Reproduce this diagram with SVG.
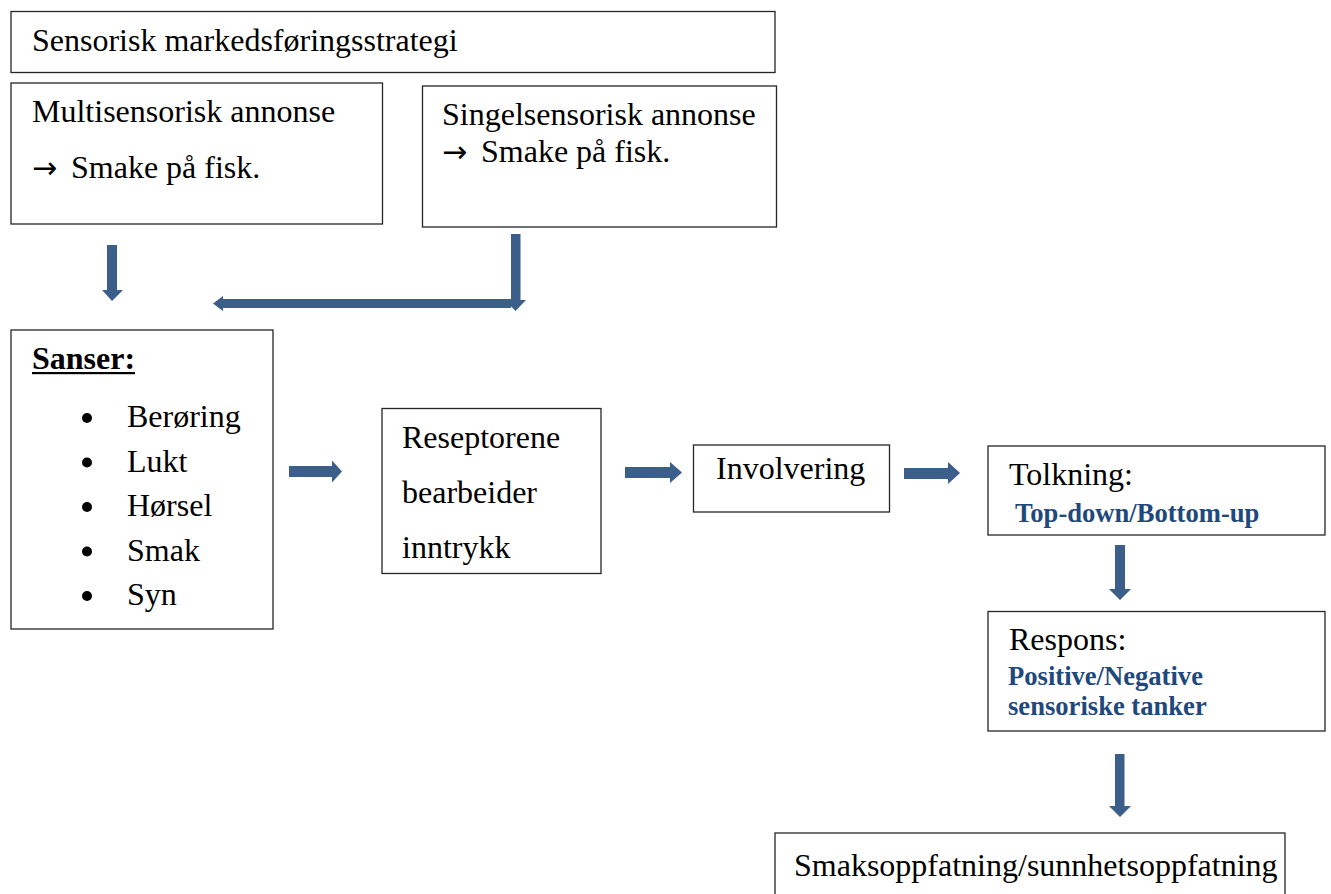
<svg xmlns="http://www.w3.org/2000/svg" width="1331" height="894" viewBox="0 0 1331 894">
<style>
.box{fill:#fff;stroke:#262626;stroke-width:1.3}
text{font-family:"Liberation Serif","Times New Roman",serif}
.t{font-size:32px;fill:#000}
.b{font-size:26.6px;font-weight:bold;fill:#1F497D}
.ar{font-family:"DejaVu Sans",sans-serif;font-size:30px}
.arr{fill:#3B5E8B}
</style>
<rect width="1331" height="894" fill="#fff"/>
<g id="strategi"><rect class="box" x="11" y="11.5" width="764" height="61"/><text class="t" x="32" y="51">Sensorisk markedsføringsstrategi</text></g>
<g id="multi"><rect class="box" x="11" y="83" width="371.5" height="141"/><text class="t" x="32" y="121.5">Multisensorisk annonse</text><text class="t" y="178"><tspan class="ar" x="32">→</tspan><tspan x="71">Smake på fisk.</tspan></text></g>
<g id="singel"><rect class="box" x="422.5" y="86" width="354" height="141"/><text class="t" x="442" y="125">Singelsensorisk annonse</text><text class="t" y="162"><tspan class="ar" x="442">→</tspan><tspan x="481">Smake på fisk.</tspan></text></g>
<g id="sanser"><rect class="box" x="11" y="330" width="262" height="299"/>
<text class="t" x="32" y="369" font-weight="bold">Sanser:</text><rect x="32" y="372" width="103" height="2.2" fill="#000"/>
<g fill="#000"><circle cx="87" cy="418" r="5"/><circle cx="87" cy="462.5" r="5"/><circle cx="87" cy="507" r="5"/><circle cx="87" cy="551.5" r="5"/><circle cx="87" cy="596" r="5"/></g>
<text class="t" x="127" y="427">Berøring</text><text class="t" x="127" y="471.5">Lukt</text><text class="t" x="127" y="516">Hørsel</text><text class="t" x="127" y="560.5">Smak</text><text class="t" x="127" y="605">Syn</text></g>
<g id="reseptorene"><rect class="box" x="382" y="408.5" width="219" height="165"/><text class="t" x="402" y="448">Reseptorene</text><text class="t" x="402" y="503">bearbeider</text><text class="t" x="402" y="558">inntrykk</text></g>
<g id="involvering"><rect class="box" x="693.5" y="445" width="196" height="67"/><text class="t" x="716" y="478.5">Involvering</text></g>
<g id="tolkning"><rect class="box" x="988" y="446" width="337" height="89"/><text class="t" x="1009" y="485">Tolkning:</text><text class="b" x="1015" y="521.5">Top-down/Bottom-up</text></g>
<g id="respons"><rect class="box" x="988" y="611.5" width="337" height="119.5"/><text class="t" x="1009" y="650">Respons:</text><text class="b" x="1008" y="685">Positive/Negative</text><text class="b" x="1008" y="715">sensoriske tanker</text></g>
<g id="oppfatning"><rect class="box" x="775" y="833" width="510" height="70"/><text class="t" x="794" y="876">Smaksoppfatning/sunnhetsoppfatning</text></g>
<g id="connectors">
<path class="arr" d="M107,245 H117 V290 H123 L112,301 L102,290 H107 Z"/>
<path class="arr" d="M511,234 H520.5 V300 H526 L515.5,311 L505,300 H511 V308 H223 V311 L213,303.5 L223,296 V299 H511 Z"/>
<path class="arr" d="M289,466 H332 V460.5 L342,471.5 L332,482.5 V477 H289 Z"/>
<path class="arr" d="M625,467 H670 V462 L682,472.5 L670,483 V478 H625 Z"/>
<path class="arr" d="M904,468 H948 V462 L960,473 L948,484 V479 H904 Z"/>
<path class="arr" d="M1115,545 H1125 V589 H1131 L1120,600 L1109,589 H1115 Z"/>
<path class="arr" d="M1115,754 H1124.5 V806 H1131 L1120,817 L1109,806 H1115 Z"/>
</g>
</svg>
